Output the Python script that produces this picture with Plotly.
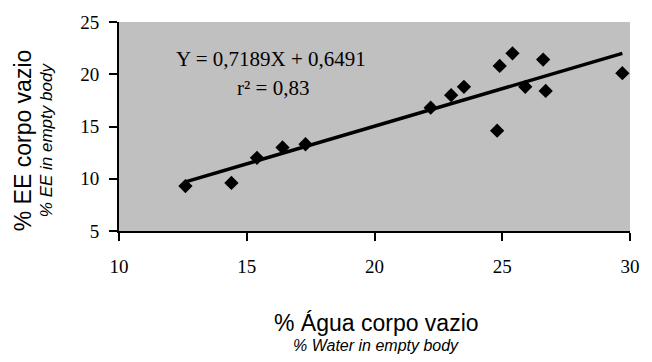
import plotly.graph_objects as go

# Data
water = [12.6, 14.4, 15.4, 16.4, 17.3, 22.2, 23.0, 23.5, 24.8, 24.9, 25.4, 25.9, 26.6, 26.7, 29.7]
ee = [9.3, 9.6, 12.0, 13.0, 13.3, 16.8, 18.0, 18.8, 14.6, 20.8, 22.0, 18.8, 21.4, 18.4, 20.1]

slope = 0.7189
intercept = 0.6491
r2 = 0.83

x_ticks = [10, 15, 20, 25, 30]
y_ticks = [5, 10, 15, 20, 25]

xmin, xmax = min(water), max(water)
fit_x = [xmin, xmax]
fit_y = [slope * v + intercept for v in fit_x]

fig = go.Figure()
fig.add_trace(go.Scatter(x=fit_x, y=fit_y, mode="lines",
                         line=dict(color="black", width=3.5), showlegend=False,
                         hoverinfo="skip"))
fig.add_trace(go.Scatter(x=water, y=ee, mode="markers",
                         marker=dict(symbol="diamond", size=11, color="black"),
                         showlegend=False))

serif = "Liberation Serif, Times New Roman, serif"
sans = "Liberation Sans, Arial, sans-serif"

L, R, T, B = 119, 631, 15, 231
W, H = 512, 216


def px(xp):
    return (xp - L) / W


def py(yp):
    return (B - yp) / H


fig.update_layout(
    width=652, height=362,
    margin=dict(l=L, r=652 - R, t=T, b=362 - B),
    plot_bgcolor="#c0c0c0",
    paper_bgcolor="white",
    xaxis=dict(range=[10, 30], tickvals=x_ticks, ticktext=[str(v) for v in x_ticks],
               showgrid=False, zeroline=False, showline=True, linecolor="black", linewidth=2,
               ticks="outside", ticklen=8, tickwidth=2, tickcolor="black",
               tickfont=dict(family=serif, size=19, color="black"), ticklabelstandoff=9),
    yaxis=dict(range=[5, 25], tickvals=y_ticks, ticktext=[str(v) for v in y_ticks],
               showgrid=False, zeroline=False, showline=True, linecolor="black", linewidth=2,
               ticks="outside", ticklen=8, tickwidth=2, tickcolor="black",
               tickfont=dict(family=serif, size=19, color="black"), ticklabelstandoff=6),
    annotations=[
        dict(text=f"Y = {str(slope).replace('.', ',')}X + {str(intercept).replace('.', ',')}",
             xref="paper", yref="paper", x=px(271), y=py(53),
             showarrow=False, font=dict(family=serif, size=21, color="black"),
             xanchor="center", yanchor="middle"),
        dict(text=f"r² = {str(r2).replace('.', ',')}",
             xref="paper", yref="paper", x=px(273), y=py(83),
             showarrow=False, font=dict(family=serif, size=21, color="black"),
             xanchor="center", yanchor="middle"),
        dict(text="% Água corpo vazio", xref="paper", yref="paper",
             x=px(377), y=py(326), showarrow=False,
             font=dict(family=sans, size=23, color="black"), xanchor="center", yanchor="middle"),
        dict(text="<i>% Water in empty body</i>", xref="paper", yref="paper",
             x=px(377), y=py(349), showarrow=False,
             font=dict(family=sans, size=16, color="black"), xanchor="center", yanchor="middle"),
        dict(text="% EE corpo vazio", xref="paper", yref="paper",
             x=px(23), y=py(137), showarrow=False, textangle=-90,
             font=dict(family=sans, size=23, color="black"), xanchor="center", yanchor="middle"),
        dict(text="<i>% EE in empty body</i>", xref="paper", yref="paper",
             x=px(46), y=py(137), showarrow=False, textangle=-90,
             font=dict(family=sans, size=17, color="black"), xanchor="center", yanchor="middle"),
    ],
)

fig.write_html("out.html", config={"displayModeBar": False},
               post_script="document.body.style.margin='0';document.body.style.padding='0';")
